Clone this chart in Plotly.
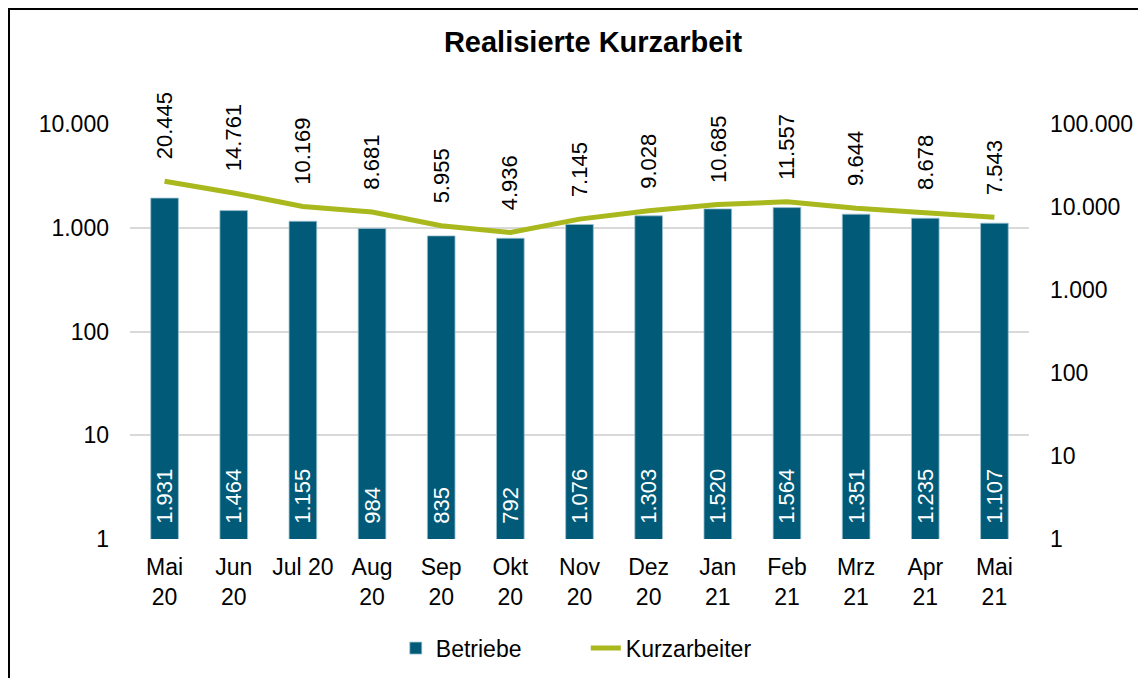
import math

import plotly.graph_objects as go

# Daten: Realisierte Kurzarbeit (Mai 2020 - Mai 2021)
months = ["Mai 20", "Jun 20", "Jul 20", "Aug 20", "Sep 20", "Okt 20", "Nov 20",
          "Dez 20", "Jan 21", "Feb 21", "Mrz 21", "Apr 21", "Mai 21"]
month_labels = ["Mai<br>20", "Jun<br>20", "Jul 20", "Aug<br>20", "Sep<br>20", "Okt<br>20",
                "Nov<br>20", "Dez<br>20", "Jan<br>21", "Feb<br>21", "Mrz<br>21",
                "Apr<br>21", "Mai<br>21"]
betriebe = [1931, 1464, 1155, 984, 835, 792, 1076, 1303, 1520, 1564, 1351, 1235, 1107]
kurzarbeiter = [20445, 14761, 10169, 8681, 5955, 4936, 7145, 9028, 10685, 11557, 9644, 8678, 7543]
left_ticks = [1, 10, 100, 1000, 10000]
right_ticks = [1, 10, 100, 1000, 10000, 100000]

BAR_COLOR = "#005A78"
LINE_COLOR = "#A9B81C"
FONT = "Liberation Sans, Arial, sans-serif"

# plot area in figure pixels
L, T, PW, PH = 122, 116, 899, 415
W, H = 1146, 678


def de_num(v):
    return f"{v:,}".replace(",", ".")


fig = go.Figure()

fig.add_trace(
    go.Bar(
        x=months,
        y=betriebe,
        name="Betriebe",
        marker=dict(color=BAR_COLOR, line=dict(color="#9cc0cf", width=0.8)),
        text=["\u00a0\u00a0" + de_num(v) for v in betriebe],
        textposition="inside",
        insidetextanchor="start",
        textangle=-90,
        textfont=dict(color="white", size=22, family=FONT),
        width=0.4,
    )
)

fig.add_trace(
    go.Scatter(
        x=months,
        y=kurzarbeiter,
        name="Kurzarbeiter",
        yaxis="y2",
        mode="lines",
        line=dict(color=LINE_COLOR, width=5),
    )
)

# rotated value labels above the line (log axis -> log10 coords)
for m, v in zip(months, kurzarbeiter):
    fig.add_annotation(
        x=m, y=math.log10(v), xref="x", yref="y2",
        text=de_num(v), textangle=-90, showarrow=False,
        yanchor="bottom", xanchor="center", yshift=20,
        font=dict(size=22, color="black", family=FONT),
    )

# chart border
fig.add_shape(
    type="rect", xref="paper", yref="paper",
    x0=(1 - L) / PW, x1=1.3, y0=-0.6, y1=1 + (T - 1) / PH,
    line=dict(color="black", width=2), layer="below",
)

fig.update_layout(
    width=W,
    height=H,
    margin=dict(l=L, r=W - L - PW, t=T, b=H - T - PH),
    paper_bgcolor="white",
    plot_bgcolor="white",
    separators=",.",
    font=dict(family=FONT, size=23, color="black"),
    title=dict(
        text="<b>Realisierte Kurzarbeit</b>",
        x=585 / W, xanchor="center",
        y=1 - 34 / H, yanchor="middle",
        font=dict(size=29, family=FONT, color="black"),
    ),
    showlegend=True,
    legend=dict(
        orientation="h", x=0.507, xanchor="center", y=-0.263, yanchor="middle",
        font=dict(size=23, family=FONT),
        entrywidth=145,
    ),
    uniformtext=dict(minsize=22, mode="show"),
    xaxis=dict(
        type="category",
        tickvals=months,
        ticktext=month_labels,
        ticks="",
        showgrid=False,
        showline=False,
        ticklabelstandoff=12,
        tickfont=dict(size=23),
    ),
    yaxis=dict(
        type="log",
        range=[0, 4],
        tickvals=left_ticks,
        tickformat=",d",
        showgrid=True,
        gridcolor="#D9D9D9",
        gridwidth=1.5,
        zeroline=False,
        ticklabelstandoff=20,
        tickfont=dict(size=23),
    ),
    yaxis2=dict(
        type="log",
        range=[0, 5],
        overlaying="y",
        side="right",
        tickvals=right_ticks,
        tickformat=",d",
        showgrid=False,
        zeroline=False,
        ticklabelstandoff=20,
        tickfont=dict(size=23),
    ),
)

fig.write_html("out.html")
